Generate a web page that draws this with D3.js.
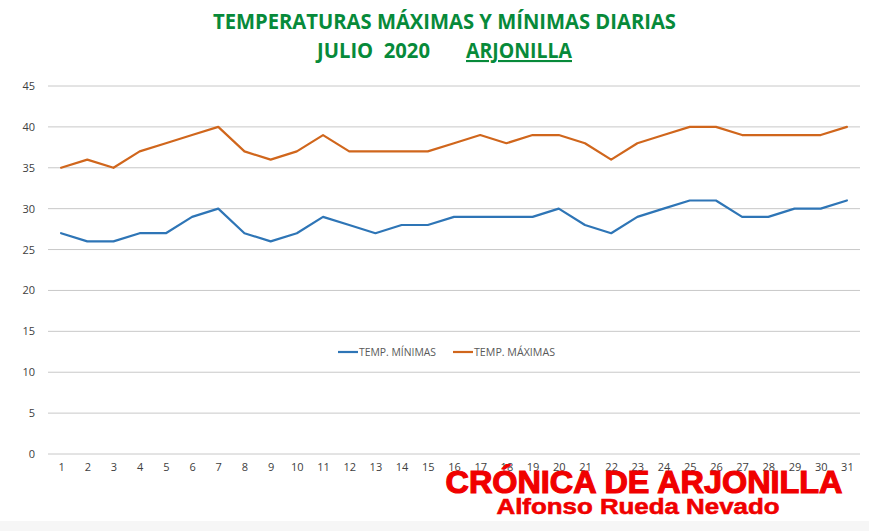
<!DOCTYPE html>
<html>
<head>
<meta charset="utf-8">
<script src="https://cdn.jsdelivr.net/npm/d3@7"></script>
<style>
  body { margin: 0; background: #fff; }
  svg { display: block; }
</style>
</head>
<body>
<svg id="chart"></svg>
<script>
const days = d3.range(1, 32).map(String);
const tempMin = [27, 26, 26, 27, 27, 29, 30, 27, 26, 27, 29, 28, 27, 28, 28, 29,
                 29, 29, 29, 30, 28, 27, 29, 30, 31, 31, 29, 29, 30, 30, 31];
const tempMax = [35, 36, 35, 37, 38, 39, 40, 37, 36, 37, 39, 37, 37, 37, 37, 38,
                 39, 38, 39, 39, 38, 36, 38, 39, 40, 40, 39, 39, 39, 39, 40];
const yTicks = [0, 5, 10, 15, 20, 25, 30, 35, 40, 45];
const seriesNames = ["TEMP. MÍNIMAS", "TEMP. MÁXIMAS"];
const seriesColors = ["#2E75B6", "#D0661C"];

const width = 869, height = 531;
const margin = { top: 86, right: 9, bottom: 77, left: 48 };
const innerWidth = width - margin.left - margin.right;
const innerHeight = height - margin.top - margin.bottom;

const svg = d3.select("#chart")
    .attr("width", width)
    .attr("height", height);

// light strip at the very bottom of the image
svg.append("rect")
    .attr("x", 0).attr("y", 521)
    .attr("width", width).attr("height", height - 521)
    .attr("fill", "#f6f6f6");

const green = "#078A3A";
const title = svg.append("g")
    .attr("font-family", "'Open Sans', sans-serif")
    .attr("font-weight", "bold")
    .attr("font-size", 21)
    .attr("fill", green)
    .attr("lengthAdjust", "spacingAndGlyphs");

title.append("text")
    .attr("x", 213).attr("y", 29)
    .attr("textLength", 463)
    .attr("lengthAdjust", "spacingAndGlyphs")
    .text("TEMPERATURAS MÁXIMAS Y MÍNIMAS DIARIAS");

title.append("text")
    .attr("x", 317).attr("y", 58)
    .attr("textLength", 113)
    .attr("lengthAdjust", "spacingAndGlyphs")
    .text("JULIO\u00a0\u00a02020");

title.append("text")
    .attr("x", 466).attr("y", 58)
    .attr("textLength", 106)
    .attr("lengthAdjust", "spacingAndGlyphs")
    .attr("text-decoration", "underline")
    .text("ARJONILLA");

const g = svg.append("g")
    .attr("transform", `translate(${margin.left},${margin.top})`);

const x = d3.scalePoint()
    .domain(days)
    .range([0, innerWidth])
    .padding(0.5);

const y = d3.scaleLinear()
    .domain([0, 45])
    .range([innerHeight, 0]);

// gridlines
g.append("g")
    .selectAll("line")
    .data(yTicks)
    .join("line")
    .attr("x1", 0)
    .attr("x2", innerWidth)
    .attr("y1", d => y(d))
    .attr("y2", d => y(d))
    .attr("stroke", "#c8c8c8")
    .attr("stroke-width", 1);

const yAxis = g.append("g")
    .call(d3.axisLeft(y).tickValues(yTicks).tickSize(0).tickPadding(13));
yAxis.select(".domain").remove();
yAxis.selectAll("text")
    .attr("font-family", "'Open Sans', sans-serif")
    .attr("font-size", 11)
    .attr("fill", "#404040");

const xAxis = g.append("g")
    .attr("transform", `translate(0,${innerHeight})`)
    .call(d3.axisBottom(x).tickSize(0).tickPadding(9));
xAxis.select(".domain").remove();
xAxis.selectAll("text")
    .attr("font-family", "'Open Sans', sans-serif")
    .attr("font-size", 11)
    .attr("fill", "#404040");

const line = d3.line()
    .x((d, i) => x(days[i]))
    .y(d => y(d));

[tempMin, tempMax].forEach((values, i) => {
    g.append("path")
        .datum(values)
        .attr("fill", "none")
        .attr("stroke", seriesColors[i])
        .attr("stroke-width", 2.2)
        .attr("stroke-linejoin", "round")
        .attr("stroke-linecap", "round")
        .attr("d", line);
});

// legend
const legend = svg.append("g")
    .attr("font-family", "'Open Sans', sans-serif")
    .attr("font-size", 10.5)
    .attr("fill", "#595959");
const legendX = [338, 453];
const legendW = [77, 81];
seriesNames.forEach((name, i) => {
    legend.append("line")
        .attr("x1", legendX[i]).attr("x2", legendX[i] + 20)
        .attr("y1", 352).attr("y2", 352)
        .attr("stroke", seriesColors[i])
        .attr("stroke-width", 2.2);
    legend.append("text")
        .attr("x", legendX[i] + 21).attr("y", 356)
        .attr("textLength", legendW[i])
        .attr("lengthAdjust", "spacingAndGlyphs")
        .text(name);
});

// watermark
const mark = svg.append("g")
    .attr("font-family", "'Liberation Sans', Arial, sans-serif")
    .attr("font-weight", "bold")
    .attr("fill", "#f00000")
    .attr("stroke", "#f00000")
    .attr("text-anchor", "middle");

mark.append("text")
    .attr("x", 644).attr("y", 493)
    .attr("font-size", 32)
    .attr("stroke-width", 1.2)
    .attr("textLength", 397)
    .attr("lengthAdjust", "spacingAndGlyphs")
    .text("CRÓNICA DE ARJONILLA");

mark.append("text")
    .attr("x", 638).attr("y", 514)
    .attr("font-size", 22)
    .attr("stroke-width", 0.6)
    .attr("textLength", 283)
    .attr("lengthAdjust", "spacingAndGlyphs")
    .text("Alfonso Rueda Nevado");
</script>
</body>
</html>
